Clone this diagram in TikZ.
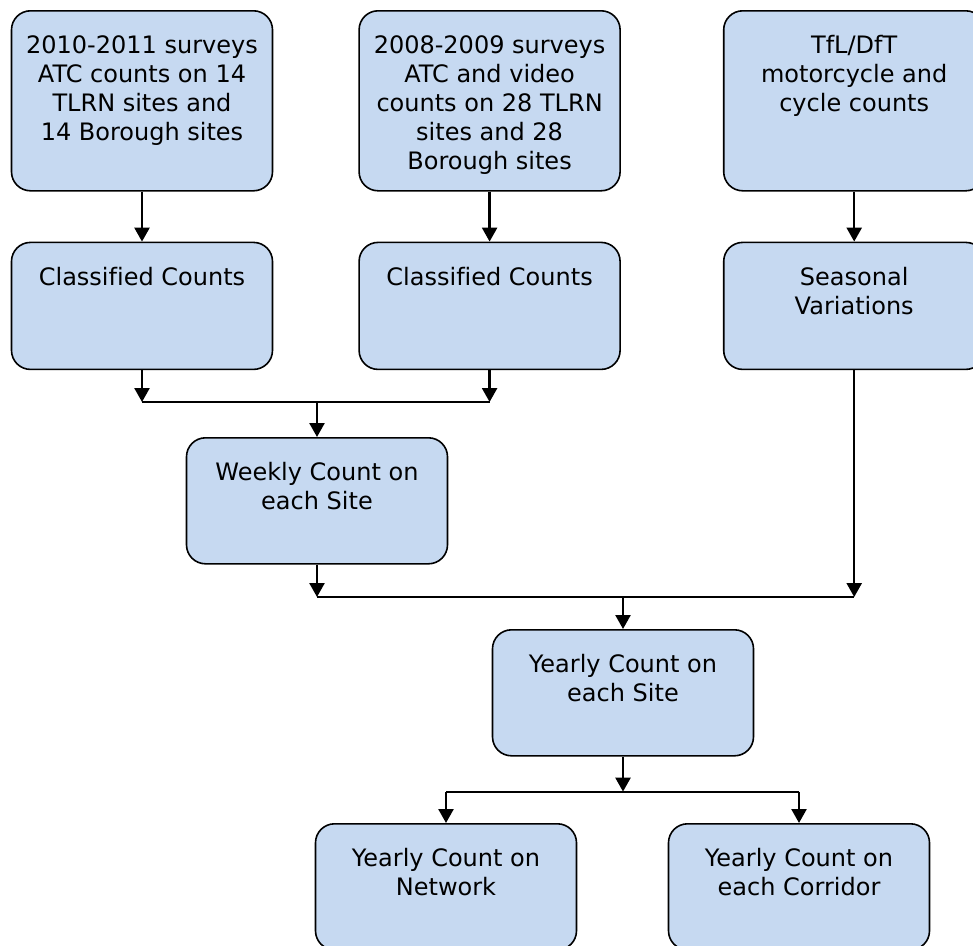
\documentclass[tikz,border=0pt]{standalone}
\usepackage{fontspec}
\usepackage{tikz}
\usetikzlibrary{positioning,arrows.meta,calc}
\newfontfamily\boxfont[Ligatures=NoCommon]{DejaVu Sans}
\definecolor{boxblue}{HTML}{C6D9F1}
\newcommand{\boxtext}[2]{\begin{minipage}[t][#1][t]{250pt}\centering\vspace*{23pt}\strut #2\end{minipage}}

\begin{document}
\begin{tikzpicture}[x=1pt, y=1pt,
  stage/.style={rectangle, rounded corners=19pt, draw=black, line width=1.6pt,
    fill=boxblue, inner sep=0pt, minimum width=261pt,
    font=\boxfont\fontsize{24}{28.8}\selectfont},
  arr/.style={-{Triangle[width=15pt,length=14pt]}, line width=2.5pt},
  bus/.style={line width=1.8pt}
]
\useasboundingbox (0,0) rectangle (973,-945);

\node[stage, anchor=north] (srv10) at (142,-10) {\boxtext{180pt}{2010-2011 surveys\\ATC counts on 14\\TLRN sites and\\14 Borough sites}};
\node[stage, right=85pt of srv10] (srv08) {\boxtext{180pt}{2008-2009 surveys\\ATC and video\\counts on 28 TLRN\\sites and 28\\Borough sites}};
\node[stage, right=102pt of srv08] (tfl) {\boxtext{180pt}{TfL/DfT\\motorcycle and\\cycle counts}};

\node[stage, below=50pt of srv10] (cls10) {\boxtext{127pt}{Classified Counts}};
\node[stage, below=50pt of srv08] (cls08) {\boxtext{127pt}{Classified Counts}};
\node[stage, below=50pt of tfl] (season) {\boxtext{127pt}{Seasonal\\Variations}};

% junctions
\coordinate (j1) at (317,-402);
\coordinate (j2) at (623,-597);

\node[stage, below=35pt of j1] (weekly) {\boxtext{126pt}{Weekly Count on\\each Site}};
\node[stage, below=32pt of j2] (yearly) {\boxtext{126pt}{Yearly Count on\\each Site}};
\coordinate (j3) at ($(yearly.south)+(0,-35)$);

\node[stage, anchor=north] (network) at (446,-823) {\boxtext{126pt}{Yearly Count on\\Network}};
\node[stage, anchor=north] (corridor) at (799,-823) {\boxtext{126pt}{Yearly Count on\\each Corridor}};

\draw[arr] (srv10) -- (cls10);
\draw[arr] (srv08) -- (cls08);
\draw[arr] (tfl) -- (season);

\draw[arr] (cls10) -- (cls10.south |- j1);
\draw[arr] (cls08) -- (cls08.south |- j1);
\draw[bus] (cls10.south |- j1) -- (cls08.south |- j1);
\draw[arr] (j1) -- (weekly);

\draw[arr] (weekly) -- (weekly.south |- j2);
\draw[arr] (season) -- (season.south |- j2);
\draw[bus] (weekly.south |- j2) -- (season.south |- j2);
\draw[arr] (j2) -- (yearly);

\draw[arr] (yearly) -- (j3);
\draw[bus] (network.north |- j3) -- (corridor.north |- j3);
\draw[arr] (network.north |- j3) -- (network);
\draw[arr] (corridor.north |- j3) -- (corridor);
\end{tikzpicture}
\end{document}
